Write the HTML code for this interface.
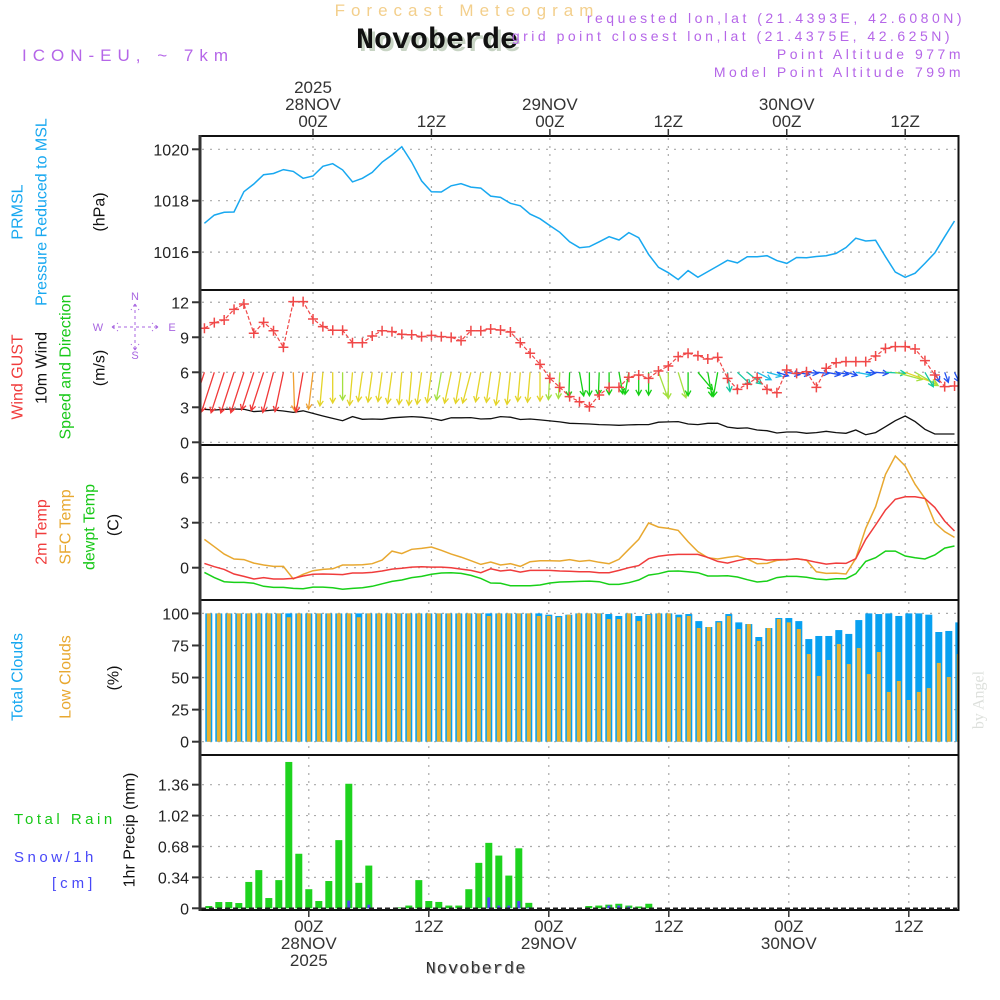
<!DOCTYPE html>
<html><head><meta charset="utf-8"><title>Forecast Meteogram Novoberde</title>
<style>
html,body{margin:0;padding:0;background:#fff;}
svg{display:block;font-family:"Liberation Sans",sans-serif;}
</style></head>
<body>
<svg id="chart" width="1000" height="1000" viewBox="0 0 1000 1000" xmlns="http://www.w3.org/2000/svg">
<defs>
<clipPath id="c1"><rect x="201" y="137" width="757" height="152"/></clipPath>
<clipPath id="c2"><rect x="201" y="291" width="757" height="153"/></clipPath>
<clipPath id="c3"><rect x="201" y="446" width="757" height="153"/></clipPath>
<clipPath id="c4"><rect x="201" y="601" width="757" height="153"/></clipPath>
<clipPath id="c5"><rect x="201" y="756" width="757" height="153"/></clipPath>
</defs>
<text x="467" y="16" text-anchor="middle" font-size="17" fill="#f3cf8c" letter-spacing="6">Forecast Meteogram</text>
<text x="440" y="51" text-anchor="middle" font-size="30" font-weight="bold" font-family="Liberation Mono, monospace" fill="#c8d4c4">Novoberde</text>
<text x="437" y="48" text-anchor="middle" font-size="30" font-weight="bold" font-family="Liberation Mono, monospace" fill="#111">Novoberde</text>
<text x="22" y="61" font-size="17" fill="#b566e8" letter-spacing="6">ICON-EU, ~ 7km</text>
<text x="965" y="23" text-anchor="end" font-size="14" fill="#b566e8" letter-spacing="3.5">requested lon,lat (21.4393E, 42.6080N)</text>
<text x="953" y="41" text-anchor="end" font-size="14" fill="#b566e8" letter-spacing="3.5">grid point closest lon,lat (21.4375E, 42.625N)</text>
<text x="964" y="59" text-anchor="end" font-size="14" fill="#b566e8" letter-spacing="3.5">Point Altitude 977m</text>
<text x="964" y="77" text-anchor="end" font-size="14" fill="#b566e8" letter-spacing="3.5">Model Point Altitude 799m</text>
<g id="layer"></g>
</svg>
<script>
// ---------------- data ----------------
const startHour = -11; // hourly series start (hours from 28NOV 00Z)
const pressure = [1017.12,1017.44,1017.55,1017.56,1018.35,1018.65,1019.01,1019.06,1019.21,1019.14,1018.87,1018.96,1019.34,1019.44,1019.2,1018.73,1018.87,1019.1,1019.5,1019.78,1020.1,1019.5,1018.77,1018.35,1018.34,1018.58,1018.66,1018.53,1018.49,1018.18,1018.13,1017.9,1017.8,1017.48,1017.3,1017.03,1016.77,1016.4,1016.17,1016.21,
1016.4,1016.6,1016.47,1016.76,1016.56,1015.91,1015.41,1015.2,1014.93,1015.28,1015.02,1015.24,1015.46,1015.68,1015.58,1015.82,1015.82,1015.86,1015.67,1015.56,1015.79,1015.78,1015.83,1015.86,1015.95,1016.18,1016.54,1016.43,1016.46,1015.82,1015.22,1015.02,1015.18,1015.56,1015.97,1016.6,1017.21];
const gust = [9.77,10.25,10.48,11.39,11.85,9.34,10.28,9.56,8.14,12.05,12.05,10.57,9.91,9.6,9.6,8.53,8.53,9.11,9.56,9.48,9.25,9.22,9.05,9.16,9.05,8.99,8.71,9.56,9.56,9.71,9.62,9.45,8.53,7.63,6.68,5.48,4.71,3.91,3.48,3.05,
4.05,4.71,4.71,5.57,5.77,5.48,6.11,6.54,7.34,7.63,7.42,7.14,7.28,5.48,4.54,4.97,5.54,4.54,4.25,6.2,5.91,6.05,4.71,6.34,6.82,6.91,6.91,6.91,7.39,8.05,8.2,8.2,7.99,7,5.77,4.77,4.82];
const windSpeed = [2.83,2.77,2.83,2.85,2.83,2.63,2.68,2.77,2.68,2.56,2.7,2.48,2.25,2.05,1.85,2.2,1.97,2.0,1.97,2.1,2.15,2.2,2.15,2.05,1.88,2.1,2.1,2.12,2.0,2.02,2.2,2.15,1.95,2.0,1.92,1.83,1.75,1.63,1.6,1.57,
1.52,1.49,1.46,1.49,1.52,1.52,1.72,1.75,1.77,1.57,1.52,1.63,1.63,1.3,1.2,1.23,1.05,0.99,0.8,0.88,0.88,0.77,0.83,0.94,0.83,0.77,1.05,0.65,0.83,1.34,1.85,2.25,1.77,1.11,0.71,0.71,0.71];
const windDir = [198,198,198,198,198,198,198,195,192,178,190,187,185,180,180,185,188,188,188,188,185,185,188,188,190,192,190,195,190,188,188,186,185,185,180,183,183,182,170,180,
182,180,170,190,180,180,160,180,163,180,140,170,190,173,133,129,118,105,107,100,100,95,95,100,100,105,100,95,95,93,105,110,120,150,155,160,155];
const temp2m = [0.29,0.07,-0.11,-0.42,-0.58,-0.75,-0.66,-0.75,-0.75,-0.71,-0.55,-0.44,-0.42,-0.44,-0.46,-0.35,-0.35,-0.31,-0.22,-0.09,-0.04,0.04,0.07,0.04,0.04,0,-0.09,-0.18,-0.33,-0.07,-0.22,-0.15,-0.29,-0.18,-0.18,-0.18,-0.22,-0.24,-0.27,-0.27,
-0.33,-0.33,-0.18,0,0.14,0.6,0.76,0.85,0.89,0.89,0.89,0.69,0.42,0.31,0.47,0.6,0.6,0.51,0.54,0.54,0.6,0.51,0.36,0.24,0.31,0.29,0.6,1.89,2.85,3.85,4.56,4.73,4.73,4.62,4.02,3.11,2.45];
const tempSfc = [1.89,1.4,0.91,0.58,0.54,0.31,0.18,0.09,0.09,-0.75,-0.44,-0.2,-0.11,-0.07,0.18,0.18,0.2,0.27,0.51,1.11,0.94,1.23,1.29,1.38,1.16,0.91,0.71,0.47,0.22,0.38,0.18,0.27,0.09,0.4,0.47,0.47,0.45,0.54,0.42,0.49,
0.36,0.27,0.56,1.23,1.89,2.98,2.71,2.62,2.49,1.73,1.07,0.67,0.58,0.69,0.78,0.58,0.27,0.29,0.49,0.54,0.6,0.51,-0.27,-0.38,-0.36,-0.42,0.62,2.62,4.07,6.22,7.45,6.78,5.56,4.62,3.0,2.4,2.02];
const dewpoint = [-0.31,-0.66,-0.93,-0.98,-0.98,-1.04,-1.24,-1.31,-1.31,-1.38,-1.4,-1.29,-1.29,-1.33,-1.44,-1.38,-1.33,-1.24,-1.07,-0.91,-0.82,-0.66,-0.58,-0.44,-0.35,-0.33,-0.38,-0.51,-0.71,-1.02,-1.04,-1.2,-1.2,-1.2,-1.15,-1.02,-0.95,-0.93,-0.91,-0.89,
-0.93,-1.11,-1.11,-1.0,-0.82,-0.49,-0.4,-0.24,-0.22,-0.27,-0.33,-0.55,-0.55,-0.53,-0.62,-0.8,-0.95,-0.89,-0.66,-0.58,-0.58,-0.64,-0.75,-0.8,-0.73,-0.73,-0.4,0.42,0.67,1.11,1.11,0.78,0.67,0.58,0.85,1.31,1.45];
const barStartHour = -10; // bar series start
const totalClouds = [100,100,100,100,100,100,100,100,100,100,100,100,100,100,100,100,100,100,100,100,100,100,100,100,100,100,100,100,100,100,100,100,100,100,99,98,99,
100,100,100,99.5,98,100,98,99.5,100,100,99,99.5,94,89.4,94,99.5,93,91.7,81.6,88.6,96.4,96.4,94,80,82.4,82.4,87,84,94.8,100,99.5,100,98,100,100,99,85.5,86.3,93];
const lowClouds = [100,100,100,100,100,100,100,100,97,100,100,100,100,100,100,97,100,100,100,100,100,100,100,100,100,100,100,100,98,100,100,100,100,98,98,97,99,
100,100,100,95.6,95.6,100,94,99,100,100,97,98,88.6,89.4,93,98,87.8,91.7,78.5,88.6,95.6,93,87.8,68.3,51.2,63.7,76.1,60.5,73,52.7,69.9,38.8,47.3,32.5,38.8,41.8,61.4,50.4,68.3];
const rain = [0.025,0.069,0.069,0.058,0.29,0.42,0.113,0.31,1.61,0.6,0.21,0.08,0.3,0.75,1.37,0.28,0.47,0,0,0.01,0.03,0.31,0.08,0.07,0.03,0.03,0.21,0.5,0.72,0.58,0.36,0.66,0.06,0,0,0,0,0,0.025,0.03,0.04,0.05,0.03,0.02,0.05,
0,0,0,0,0,0,0,0,0,0,0,0,0,0,0,0,0,0,0,0,0,0,0,0,0,0,0,0,0,0,0];
const snow = [0,0,0,0,0,0,0,0,0,0,0,0,0,0,0.085,0,0.04,0,0,0,0,0,0,0,0,0,0,0,0.12,0.03,0.03,0.08,0.01,0,0,0,0,0,0,0,0.03,0.03,0.02,0,0,
0,0,0,0,0,0,0,0,0,0,0,0,0,0,0,0,0,0,0,0,0,0,0,0,0,0,0,0,0,0,0];
const timeTicks = [0,12,24,36,48,60];
const timeTickLabels = ["00Z","12Z","00Z","12Z","00Z","12Z"];
const dateTicks = [0,24,48];
const dateTickLabels = ["28NOV","29NOV","30NOV"];
const pressureTicks = [1016,1018,1020];
const windTicks = [0,3,6,9,12];
const tempTicks = [0,3,6];
const cloudTicks = [0,25,50,75,100];
const precipTicks = [0,0.34,0.68,1.02,1.36];
const precipTickLabels = ["0","0.34","0.68","1.02","1.36"];

// ---------------- axes ----------------
const X1 = h => 313 + 9.87*h;      // upper panels
const X2 = h => 308.8 + 10*h;      // cloud & precip panels
const yP = v => 149.3 + (1020 - v)*25.7;
const yW = v => 442.3 - v*11.67;
const yT = v => 567.7 - v*15;
const yC = v => 741.7 - v*1.283;
const yR = v => 908.3 - v*90.9;

const NS = "http://www.w3.org/2000/svg";
const layer = document.getElementById('layer');
function mk(tag, attrs, parent){
  const e = document.createElementNS(NS, tag);
  for (const k in attrs) e.setAttribute(k, attrs[k]);
  (parent||layer).appendChild(e);
  return e;
}
function txt(s, attrs, parent){ const e = mk('text', attrs, parent); e.textContent = s; return e; }
function grp(name, clip){
  const g = mk('g', clip ? {'clip-path':'url(#'+clip+')'} : {});
  
  
  return g;
}

const panels = [
  {top:136, bot:290, X:X1},
  {top:290, bot:445, X:X1},
  {top:445, bot:600, X:X1},
  {top:600, bot:755, X:X2},
  {top:755, bot:910, X:X2}
];

// grids
const gridG = grp('grid-lines');
panels.forEach((p,i)=>{
  timeTicks.forEach(h=>{
    const l = mk('line',{x1:p.X(h),x2:p.X(h),y1:p.top+2,y2:p.bot-2,stroke:'#aaa','stroke-width':1.2,'stroke-dasharray':'2,6'},gridG);
    
    
  });
});
function hgrid(vals, yf, name){
  vals.forEach(v=>{
    const l = mk('line',{x1:202,x2:956,y1:yf(v),y2:yf(v),stroke:'#aaa','stroke-width':1.2,'stroke-dasharray':'2,6'},gridG);
    
    
  });
}
hgrid(pressureTicks, yP, 'pressure-grid-line');
hgrid(windTicks, yW, 'wind-grid-line');
hgrid(tempTicks, yT, 'temp-grid-line');
hgrid(cloudTicks, yC, 'cloud-grid-line');
hgrid(precipTicks.slice(1), yR, 'precip-grid-line');

// y tick labels
function yticks(vals, labels, yf, name){
  const g = grp(name);
  vals.forEach((v,i)=>{
    const y = yf(v);
    const t = mk('line',{x1:192,x2:200,y1:y,y2:y,stroke:'#333','stroke-width':2},g);
    
    
    const l = txt(labels ? labels[i] : String(v),{x:189,y:y+6,'text-anchor':'end','font-size':16,fill:'#222'},g);
    
    
  });
}
yticks(pressureTicks, null, yP, 'pressure-y-axis');
yticks(windTicks, null, yW, 'wind-y-axis');
yticks(tempTicks, null, yT, 'temp-y-axis');
yticks(cloudTicks, null, yC, 'cloud-y-axis');
yticks(precipTicks, precipTickLabels, yR, 'precip-y-axis');

// ---------------- series ----------------
function linePath(arr, X, yf){
  return arr.map((v,i)=>(i?'L':'M')+X(startHour+i).toFixed(1)+','+yf(v).toFixed(1)).join(' ');
}
// pressure
const g1 = grp('pressure-panel','c1');
const pl = mk('path',{d:linePath(pressure,X1,yP),fill:'none',stroke:'#18a8f0','stroke-width':1.5},g1);



// wind
const g2 = grp('wind-panel','c2');
const ws = mk('path',{d:linePath(windSpeed,X1,yW),fill:'none',stroke:'#111','stroke-width':1.3},g2);


function windColor(s){
  if (s>=2.6) return '#f03838';
  if (s>=2.3) return '#f0a030';
  if (s>=1.9) return '#e4d428';
  if (s>=1.7) return '#a4e040';
  if (s>=1.4) return '#14d014';
  if (s>=1.1) return '#14c8a0';
  if (s>=0.95) return '#20bce8';
  return '#2050f0';
}
windDir.forEach((d,i)=>{
  const s = windSpeed[i];
  const L = Math.max(9, 15*s);
  const x0 = X1(startHour+i), y0 = yW(6);
  const r = d*Math.PI/180;
  const dx = L*Math.sin(r), dy = -L*Math.cos(r);
  const x1 = x0+dx, y1 = y0+dy;
  const c = windColor(s);
  const a = Math.atan2(dy,dx), hl = 6;
  const p = 'M'+x0.toFixed(1)+','+y0.toFixed(1)+' L'+x1.toFixed(1)+','+y1.toFixed(1)+
    ' M'+(x1-hl*Math.cos(a-0.5)).toFixed(1)+','+(y1-hl*Math.sin(a-0.5)).toFixed(1)+' L'+x1.toFixed(1)+','+y1.toFixed(1)+
    ' L'+(x1-hl*Math.cos(a+0.5)).toFixed(1)+','+(y1-hl*Math.sin(a+0.5)).toFixed(1);
  const e = mk('path',{d:p,fill:'none',stroke:c,'stroke-width':1.3},g2);
  
  
});
const gl = mk('path',{d:linePath(gust,X1,yW),fill:'none',stroke:'#f04848','stroke-width':1.2,'stroke-dasharray':'4,2'},g2);


gust.forEach((v,i)=>{
  const x = X1(startHour+i), y = yW(v);
  const e = mk('path',{d:'M'+(x-5)+','+y+' L'+(x+5)+','+y+' M'+x+','+(y-5)+' L'+x+','+(y+5),stroke:'#f04848','stroke-width':1.5},g2);
  
  
});

// temperature
const g3 = grp('temperature-panel','c3');
[[tempSfc,'#e8a830','sfc-temp-line'],[temp2m,'#f03c3c','temp-2m-line'],[dewpoint,'#18d018','dewpoint-line']].forEach(s=>{
  const e = mk('path',{d:linePath(s[0],X1,yT),fill:'none',stroke:s[1],'stroke-width':1.5},g3);
  
  
});

// clouds
const g4 = grp('cloud-panel','c4');
totalClouds.forEach((v,i)=>{
  const x = X2(barStartHour+i);
  const b = mk('rect',{x:x-3.5,y:yC(v),width:7,height:yC(0)-yC(v),fill:'#08a0f0'},g4);
  
  
  const lv = lowClouds[i];
  const o = mk('rect',{x:x-2,y:yC(lv),width:4,height:yC(0)-yC(lv),fill:'#e8b030'},g4);
  
  
});

// precip
const g5 = grp('precip-panel','c5');
rain.forEach((v,i)=>{
  if (v<=0) return;
  const x = X2(barStartHour+i);
  const b = mk('rect',{x:x-3.5,y:yR(v),width:7,height:yR(0)-yR(v),fill:'#1ed21e'},g5);
  
  
});
snow.forEach((v,i)=>{
  if (v<=0) return;
  const x = X2(barStartHour+i);
  const b = mk('rect',{x:x-1.5,y:yR(v),width:3,height:yR(0)-yR(v),fill:'#4848f8'},g5);
  
  
});
const zl = mk('line',{x1:201,x2:957,y1:yR(0),y2:yR(0),stroke:'#222','stroke-width':1.5,'stroke-dasharray':'5,3'},g5);



// ---------------- frame ----------------
const fr = grp('panel-frames');
[136,290,445,600,755,910].forEach(y=>{
  const l = mk('line',{x1:199,x2:959,y1:y,y2:y,stroke:'#111','stroke-width':2},fr);
  
  
});
const la = mk('line',{x1:200,x2:200,y1:135,y2:911,stroke:'#333','stroke-width':3},fr);


const ra = mk('line',{x1:958.5,x2:958.5,y1:135,y2:911,stroke:'#111','stroke-width':2},fr);



// time axes
const tx = grp('time-axis-top');
timeTicks.forEach((h,i)=>{
  const x = X1(h);
  const t = mk('line',{x1:x,x2:x,y1:129,y2:136,stroke:'#333','stroke-width':1.5},tx);
  
  
  const l = txt(timeTickLabels[i],{x:x,y:127,'text-anchor':'middle','font-size':17,fill:'#333'},tx);
  
  
});
dateTicks.forEach((h,i)=>{
  const l = txt(dateTickLabels[i],{x:X1(h),y:110,'text-anchor':'middle','font-size':17,fill:'#333'},tx);
  
  
});
const yr = txt('2025',{x:X1(0),y:93,'text-anchor':'middle','font-size':17,fill:'#333'},tx);



const bx = grp('time-axis-bottom');
timeTicks.forEach((h,i)=>{
  const x = X2(h);
  const t = mk('line',{x1:x,x2:x,y1:910,y2:917,stroke:'#333','stroke-width':1.5},bx);
  
  
  const l = txt(timeTickLabels[i],{x:x,y:932,'text-anchor':'middle','font-size':17,fill:'#333'},bx);
  
  
});
dateTicks.forEach((h,i)=>{
  const l = txt(dateTickLabels[i],{x:X2(h),y:949,'text-anchor':'middle','font-size':17,fill:'#333'},bx);
  
  
});
const yr2 = txt('2025',{x:X2(0),y:966,'text-anchor':'middle','font-size':17,fill:'#333'},bx);


const fs = txt('Novoberde',{x:477,y:974,'text-anchor':'middle','font-size':17,'letter-spacing':1,fill:'#bbb','font-family':'Liberation Mono, monospace'}, bx);


const ft = txt('Novoberde',{x:476,y:973,'text-anchor':'middle','font-size':17,'letter-spacing':1,fill:'#333','font-family':'Liberation Mono, monospace'}, bx);



// left rotated labels
const lab = grp('panel-labels');
function vlabel(s, x, y, color, name){
  const e = txt(s,{x:0,y:0,transform:'translate('+x+','+y+') rotate(-90)','text-anchor':'middle','dominant-baseline':'central','font-size':16,fill:color},lab);
  
  
}
vlabel('PRMSL',18,212,'#18a8f0','prmsl-label');
vlabel('Pressure Reduced to MSL',42,212,'#18a8f0','pressure-axis-title');
vlabel('(hPa)',100,212,'#111','pressure-unit');
vlabel('Wind GUST',18,377,'#f03c3c','wind-gust-label');
vlabel('10m Wind',42,368,'#111','wind-10m-label');
vlabel('Speed and Direction',66,367,'#18c818','wind-speed-direction-label');
vlabel('(m/s)',100,368,'#111','wind-unit');
vlabel('2m Temp',42,532,'#f03c3c','temp-2m-label');
vlabel('SFC Temp',66,527,'#e8a830','sfc-temp-label');
vlabel('dewpt Temp',90,527,'#18c818','dewpoint-label');
vlabel('(C)',114,525,'#111','temp-unit');
vlabel('Total Clouds',18,677,'#18a8f0','total-clouds-label');
vlabel('Low Clouds',66,677,'#e8a830','low-clouds-label');
vlabel('(%)',114,678,'#111','cloud-unit');
vlabel('1hr Precip (mm)',130,830,'#111','precip-axis-title');
const wm = txt('by Angel',{x:0,y:0,transform:'translate(979,700) rotate(-90)','text-anchor':'middle','dominant-baseline':'central','font-size':16,fill:'#dde0dc','font-family':'Liberation Serif, serif'},lab);


const r1 = txt('Total  Rain',{x:14,y:824,'font-size':15,fill:'#18c818','letter-spacing':'3.5'},lab);


const r2 = txt('Snow/1h',{x:14,y:862,'font-size':15,fill:'#4848f8','letter-spacing':'3.5'},lab);


const r3 = txt('[cm]',{x:52,y:888,'font-size':15,fill:'#4848f8','letter-spacing':'4'},lab);



// compass
const cp = grp('wind-compass');
const cN = txt('N',{x:135,y:300,'text-anchor':'middle','font-size':11,fill:'#a866e0'},cp);


const cW = txt('W',{x:98,y:331,'text-anchor':'middle','font-size':11,fill:'#a866e0'},cp);


const cE = txt('E',{x:172,y:331,'text-anchor':'middle','font-size':11,fill:'#a866e0'},cp);


const cS = txt('S',{x:135,y:359,'text-anchor':'middle','font-size':11,fill:'#a866e0'},cp);


const cl = mk('path',{d:'M112,327 L158,327 M135,304 L135,350 M112,327 L118,323 M112,327 L118,331 M158,327 L152,323 M158,327 L152,331 M135,304 L131,310 M135,304 L139,310 M135,350 L131,344 M135,350 L139,344',stroke:'#a866e0','stroke-width':1,fill:'none','stroke-dasharray':'3,3'},cp);


</script>
</body></html>
